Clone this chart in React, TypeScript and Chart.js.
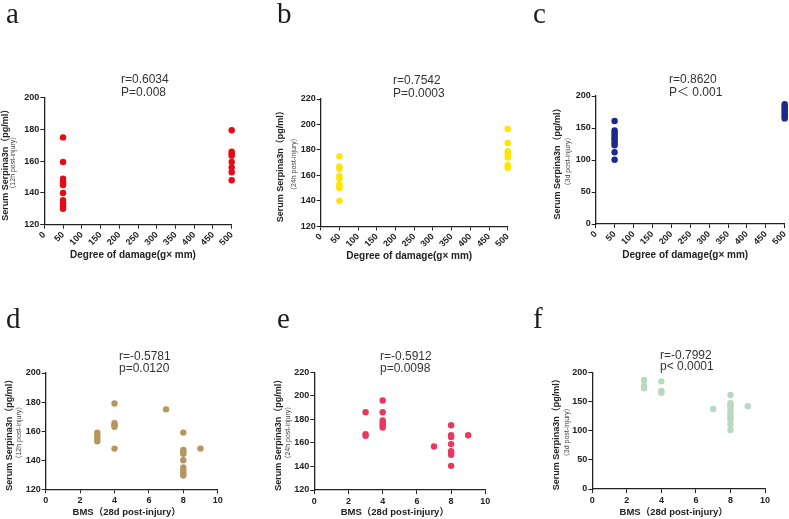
import React, { useEffect, useRef } from 'react';
import { Chart, registerables } from 'chart.js';

Chart.register(...registerables);

// ---------- data ----------
const damageGroups = [50, 500];
const bmsScores = [3, 4, 7, 8, 9];

// Serpina3n (pg/ml) by degree of damage
const serum12hLowDamage = [175, 159.5, 149, 147.5, 146, 145, 140, 135.5, 133.5, 131.5, 130];
const serum12hHighDamage = [179.5, 166, 164.5, 163.5, 159.5, 156, 153, 148];
const serum24hLowDamage = [175, 167, 165, 159.5, 157.5, 153, 151.5, 150, 140];
const serum24hHighDamage = [196.5, 185.5, 179, 177, 174, 168, 166];
const serum3dLowDamage = [161, 146, 142.5, 139.5, 136, 133, 130, 126, 123, 112, 100.5];
const serum3dHighDamage = [187, 184.5, 182, 179, 176, 173, 170, 167, 165];

// Serpina3n (pg/ml) grouped by BMS score (3, 4, 7, 8, 9)
const serum12hByBms = [
  [159, 157, 155, 153],
  [179, 165.5, 164, 163, 148],
  [175],
  [159, 147, 146, 144.5, 140, 135, 133, 131, 129.5],
  [148],
];
const serum24hByBms = [
  [186, 167.5, 166],
  [196, 186, 179, 177, 175, 173],
  [157],
  [175, 166.5, 165, 159, 153, 151.5, 150, 140.5],
  [166.5],
];
const serum3dByBms = [
  [187, 177, 172.5],
  [184.5, 168, 165],
  [137],
  [161, 147, 143, 139, 132, 128, 123.5, 119.5, 111.5, 101],
  [142],
];

const statsA = ['r=0.6034', 'P=0.008'];
const statsB = ['r=0.7542', 'P=0.0003'];
const statsC = ['r=0.8620', 'P\uFF1C 0.001'];
const statsD = ['r=-0.5781', 'p=0.0120'];
const statsE = ['r=-0.5912', 'p=0.0098'];
const statsF = ['r=-0.7992', 'p< 0.0001'];

const yTitle = 'Serum Serpina3n\uFF08pg/ml\uFF09';
const xTitleDamage = 'Degree of damage(g\u00D7 mm)';
const xTitleBms = 'BMS\uFF0828d post-injury\uFF09';

// ---------- helpers ----------
const W = 789;
const H = 519;
const SANS = '"Liberation Sans", Arial, "Noto Sans CJK SC", sans-serif';
const SERIF = '"Liberation Serif", "Times New Roman", serif';
const AXIS = '#222';

function groupPoints(xs: number[], groups: number[][]) {
  const pts: { x: number; y: number }[] = [];
  xs.forEach((x, i) => (groups[i] || []).forEach((y) => pts.push({ x, y })));
  return pts;
}

type PanelCfg = {
  letter: string;
  letterX: number;
  letterY: number;
  notes: string[];
  noteX: number;
  noteY: number;
  noteGap: number;
  color: string;
  points: { x: number; y: number }[];
  area: { left: number; right: number; top: number; bottom: number };
  xMin: number;
  xMax: number;
  xStep: number;
  xRot: number;
  yMin: number;
  yMax: number;
  yStep: number;
  xTitle: string;
  xTitleY: number;
  ySub: string;
  yMainDx: number;
  ySubDx: number;
};

const panels: PanelCfg[] = [
  {
    letter: 'a', letterX: 6, letterY: 23, notes: statsA, noteX: 121, noteY: 82.5, noteGap: 13,
    color: '#E60A14', points: groupPoints(damageGroups, [serum12hLowDamage, serum12hHighDamage]),
    area: { left: 44.3, right: 231.7, top: 97.7, bottom: 224.7 },
    xMin: 0, xMax: 500, xStep: 50, xRot: 45, yMin: 120, yMax: 200, yStep: 20,
    xTitle: xTitleDamage, xTitleY: 257.5, ySub: '\uFF0812h post-injury\uFF09', yMainDx: -39, ySubDx: -31,
  },
  {
    letter: 'b', letterX: 277, letterY: 23, notes: statsB, noteX: 393, noteY: 84, noteGap: 13,
    color: '#FFE500', points: groupPoints(damageGroups, [serum24hLowDamage, serum24hHighDamage]),
    area: { left: 320.7, right: 507.7, top: 99, bottom: 226.3 },
    xMin: 0, xMax: 500, xStep: 50, xRot: 45, yMin: 120, yMax: 220, yStep: 20,
    xTitle: xTitleDamage, xTitleY: 258.5, ySub: '\uFF0824h post-injury\uFF09', yMainDx: -40, ySubDx: -27,
  },
  {
    letter: 'c', letterX: 533, letterY: 23, notes: statsC, noteX: 669, noteY: 83, noteGap: 13,
    color: '#1C2A8C', points: groupPoints(damageGroups, [serum3dLowDamage, serum3dHighDamage]),
    area: { left: 595.7, right: 784.7, top: 96, bottom: 224 },
    xMin: 0, xMax: 500, xStep: 50, xRot: 45, yMin: 0, yMax: 200, yStep: 50,
    xTitle: xTitleDamage, xTitleY: 257.5, ySub: '\uFF083d post-injury\uFF09', yMainDx: -38.5, ySubDx: -28,
  },
  {
    letter: 'd', letterX: 6, letterY: 328, notes: statsD, noteX: 119, noteY: 360, noteGap: 11.8,
    color: '#B4965F', points: groupPoints(bmsScores, serum12hByBms),
    area: { left: 45.7, right: 217.7, top: 373, bottom: 489.3 },
    xMin: 0, xMax: 10, xStep: 2, xRot: 0, yMin: 120, yMax: 200, yStep: 20,
    xTitle: xTitleBms, xTitleY: 515, ySub: '\uFF0812h post-injury\uFF09', yMainDx: -36, ySubDx: -26.5,
  },
  {
    letter: 'e', letterX: 277, letterY: 328, notes: statsE, noteX: 380, noteY: 360, noteGap: 11.8,
    color: '#E8385E', points: groupPoints(bmsScores, serum24hByBms),
    area: { left: 314.3, right: 485.3, top: 372.3, bottom: 490 },
    xMin: 0, xMax: 10, xStep: 2, xRot: 0, yMin: 120, yMax: 220, yStep: 20,
    xTitle: xTitleBms, xTitleY: 515, ySub: '\uFF0824h post-injury\uFF09', yMainDx: -36, ySubDx: -26,
  },
  {
    letter: 'f', letterX: 533, letterY: 328, notes: statsF, noteX: 660, noteY: 358.5, noteGap: 11.8,
    color: '#B8D8C2', points: groupPoints(bmsScores, serum3dByBms),
    area: { left: 592.3, right: 765, top: 372.3, bottom: 489 },
    xMin: 0, xMax: 10, xStep: 2, xRot: 0, yMin: 0, yMax: 200, yStep: 50,
    xTitle: xTitleBms, xTitleY: 515, ySub: '\uFF083d post-injury\uFF09', yMainDx: -35.5, ySubDx: -25,
  },
];

const Y_BOX = 30;
const X_BOX = 20;

function textPlugin(p: PanelCfg) {
  return {
    id: 'panelText_' + p.letter,
    afterDraw(chart: any) {
      const { ctx, chartArea: ca } = chart;
      ctx.save();
      ctx.fillStyle = '#1a1a1a';
      ctx.textAlign = 'left';
      ctx.textBaseline = 'alphabetic';
      ctx.font = `29px ${SERIF}`;
      ctx.fillText(p.letter, p.letterX, p.letterY);

      ctx.fillStyle = '#333';
      ctx.font = `12px ${SANS}`;
      p.notes.forEach((t, i) => ctx.fillText(t, p.noteX, p.noteY + i * p.noteGap));

      ctx.fillStyle = '#222';
      ctx.textAlign = 'center';
      ctx.font = `bold ${p.xRot ? 10 : 9.5}px ${SANS}`;
      ctx.fillText(p.xTitle, (ca.left + ca.right) / 2 - 5, p.xTitleY);

      const cy = (ca.top + ca.bottom) / 2 + 1.5;
      ctx.textBaseline = 'middle';
      ctx.save();
      ctx.translate(ca.left + p.yMainDx, cy);
      ctx.rotate(-Math.PI / 2);
      ctx.font = `bold 9px ${SANS}`;
      ctx.fillText(yTitle, 0, 0);
      ctx.restore();
      ctx.save();
      ctx.translate(ca.left + p.ySubDx, cy);
      ctx.rotate(-Math.PI / 2);
      ctx.fillStyle = '#444';
      ctx.font = `7px ${SANS}`;
      ctx.fillText(p.ySub, 0, 0);
      ctx.restore();
      ctx.restore();
    },
  };
}

function buildConfig(p: PanelCfg): any {
  const tickFont = { family: SANS, size: 9, weight: 'bold' as const };
  return {
    type: 'scatter',
    data: {
      datasets: [
        {
          data: p.points,
          backgroundColor: p.color,
          borderColor: p.color,
          borderWidth: 0,
          pointRadius: 3.2,
          pointHoverRadius: 3.2,
          clip: false,
        },
      ],
    },
    options: {
      animation: false,
      responsive: false,
      maintainAspectRatio: false,
      events: [],
      layout: {
        padding: {
          left: p.area.left - Y_BOX,
          right: W - p.area.right,
          top: p.area.top,
          bottom: H - p.area.bottom - X_BOX,
        },
      },
      plugins: { legend: { display: false }, tooltip: { enabled: false }, title: { display: false } },
      scales: {
        x: {
          type: 'linear',
          min: p.xMin,
          max: p.xMax,
          ticks: {
            stepSize: p.xStep,
            autoSkip: false,
            minRotation: p.xRot,
            maxRotation: p.xRot,
            font: tickFont,
            color: AXIS,
            padding: p.xRot ? 1 : 2,
          },
          grid: { drawOnChartArea: false, drawTicks: true, tickLength: 4, color: AXIS, lineWidth: 1 },
          border: { display: true, color: AXIS, width: 1.3 },
          afterFit: (s: any) => {
            s.height = X_BOX;
            s.paddingLeft = 0;
            s.paddingRight = 0;
          },
        },
        y: {
          type: 'linear',
          min: p.yMin,
          max: p.yMax,
          ticks: { stepSize: p.yStep, font: tickFont, color: AXIS, padding: 1 },
          grid: { drawOnChartArea: false, drawTicks: true, tickLength: 4, color: AXIS, lineWidth: 1 },
          border: { display: true, color: AXIS, width: 1.3 },
          afterFit: (s: any) => {
            s.width = Y_BOX;
            s.paddingTop = 0;
            s.paddingBottom = 0;
          },
        },
      },
    },
    plugins: [textPlugin(p)],
  };
}

function Panel({ cfg }: { cfg: PanelCfg }) {
  const ref = useRef<HTMLCanvasElement | null>(null);
  useEffect(() => {
    if (!ref.current) return;
    const chart = new Chart(ref.current, buildConfig(cfg));
    return () => chart.destroy();
  }, [cfg]);
  return (
    <canvas
      ref={ref}
      width={W}
      height={H}
      style={{ position: 'absolute', left: 0, top: 0, width: W, height: H }}
    />
  );
}

export default function App() {
  return (
    <div
      style={{
        position: 'absolute',
        left: 0,
        top: 0,
        width: W,
        height: H,
        background: '#fff',
        overflow: 'hidden',
      }}
    >
      {panels.map((p) => (
        <Panel key={p.letter} cfg={p} />
      ))}
    </div>
  );
}
